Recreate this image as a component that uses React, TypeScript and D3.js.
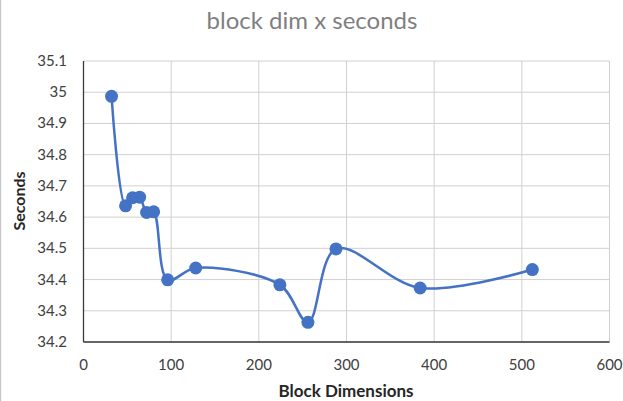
import React from "react";
import * as d3 from "d3";

// Block dimension vs. run time in seconds
const blockDims = [32, 48, 56, 64, 72, 80, 96, 128, 224, 256, 288, 384, 512];
const seconds = [34.987, 34.636, 34.662, 34.664, 34.615, 34.617, 34.399, 34.437, 34.383, 34.263, 34.498, 34.373, 34.432];
const xTicks = [0, 100, 200, 300, 400, 500, 600];
const yTicks = [34.2, 34.3, 34.4, 34.5, 34.6, 34.7, 34.8, 34.9, 35, 35.1];

const W = 623;
const H = 401;
const M = { left: 83.5, right: 609.5, top: 61, bottom: 342 };
const FONT = "Lato, 'Open Sans', sans-serif";
const BLUE = "#4472C4";

export default function App() {
  const x = d3.scaleLinear().domain([0, 600]).range([M.left, M.right]);
  const y = d3.scaleLinear().domain([34.2, 35.1]).range([M.bottom, M.top]);
  const pts: [number, number][] = blockDims.map((d, i) => [x(d), y(seconds[i])]);
  const line = d3.line().curve(d3.curveCatmullRom.alpha(0.5))(pts) || "";

  return (
    <svg
      width={W}
      height={H}
      style={{ position: "absolute", left: 0, top: 0, background: "#fff" }}
      fontFamily={FONT}
    >
      <line x1={0.5} x2={0.5} y1={0} y2={H} stroke="#c8c8c8" strokeWidth={1.5} />
      <text x={312} y={29} textAnchor="middle" fontSize={24} fill="#7f7f7f">
        block dim x seconds
      </text>
      {/* grid */}
      {yTicks.map((t) => (
        <line key={"gy" + t} x1={M.left} x2={M.right} y1={y(t)} y2={y(t)} stroke="#d0d0d0" strokeWidth={1} />
      ))}
      {xTicks.map((t) => (
        <line key={"gx" + t} x1={x(t)} x2={x(t)} y1={M.top} y2={M.bottom} stroke="#d0d0d0" strokeWidth={1} />
      ))}
      {/* axes */}
      <line x1={M.left} x2={M.left} y1={M.top} y2={M.bottom} stroke="#3a3a3a" strokeWidth={1.3} />
      <line x1={M.left} x2={M.right} y1={M.bottom} y2={M.bottom} stroke="#3a3a3a" strokeWidth={1.3} />
      {yTicks.map((t) => (
        <text key={"ty" + t} x={67} y={y(t) + 5} textAnchor="end" fontSize={15} fill="#404040">
          {d3.format("")(+t.toFixed(1))}
        </text>
      ))}
      {xTicks.map((t) => (
        <text key={"tx" + t} x={x(t)} y={370} textAnchor="middle" fontSize={15} fill="#404040">
          {t}
        </text>
      ))}
      <text x={346} y={397} textAnchor="middle" fontSize={17} fontWeight="bold" fill="#262626">
        Block Dimensions
      </text>
      <text
        transform={`translate(25,201) rotate(-90)`}
        textAnchor="middle"
        fontSize={16}
        fontWeight="bold"
        fill="#262626"
      >
        Seconds
      </text>
      {/* series */}
      <path d={line} fill="none" stroke={BLUE} strokeWidth={2.5} />
      {pts.map(([px, py], i) => (
        <circle key={i} cx={px} cy={py} r={6.5} fill={BLUE} />
      ))}
    </svg>
  );
}
